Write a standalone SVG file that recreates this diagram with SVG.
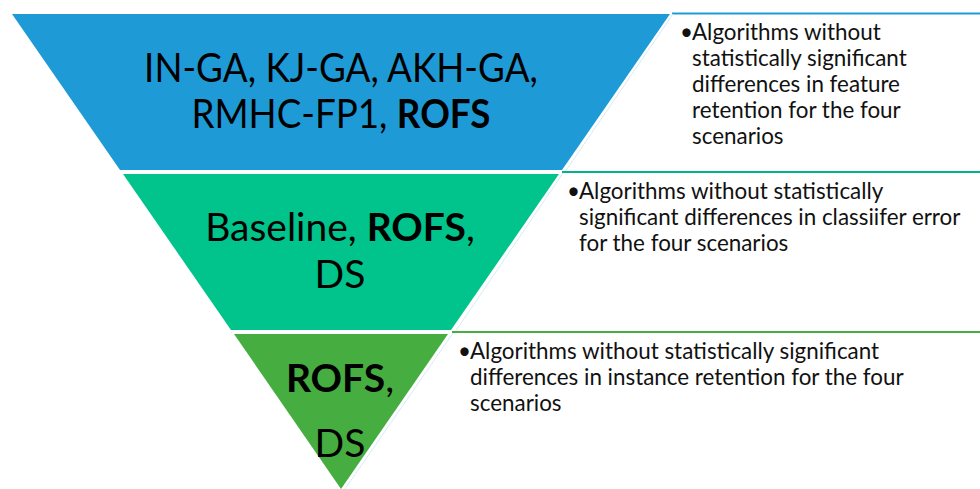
<svg xmlns="http://www.w3.org/2000/svg" width="980" height="489" viewBox="0 0 980 489">
  <style>
    .big { font-family: Lato, "Liberation Sans", sans-serif; font-size: 39px; fill: #000; text-anchor: middle; }
    .top { font-size: 41px; }
    .small { font-family: Lato, "Liberation Sans", sans-serif; font-size: 22.4px; fill: #111; }
    .b { font-weight: bold; }
    .edge { stroke: #d4ecf6; stroke-width: 1; fill: none; }
  </style>
  <rect x="0" y="0" width="980" height="489" fill="#ffffff"/>

  <g id="level-top">
    <polygon points="12,14 670,14 562,170 120,170" fill="#1E9BD7"/>
    <g transform="translate(341,0) scale(0.897,1) translate(-341,0)">
      <text class="big top" x="341" y="82">IN-GA, KJ-GA, AKH-GA,</text>
      <text class="big top" x="341" y="128">RMHC-FP1, <tspan class="b">ROFS</tspan></text>
    </g>
  </g>

  <g id="level-middle">
    <polygon points="123,174 559,174 451,330 231,330" fill="#00C48B"/>
    <text class="big" x="340" y="241">Baseline, <tspan class="b">ROFS</tspan>,</text>
    <text class="big" x="340" y="288">DS</text>
  </g>

  <g id="level-bottom">
    <polygon points="234,334 448,334 341,489" fill="#46AE40"/>
    <text class="big" x="340" y="392"><tspan class="b">ROFS</tspan>,</text>
    <text class="big" x="340" y="457">DS</text>
  </g>

  <g id="box-top">
    <line x1="672" y1="13.5" x2="980" y2="13.5" stroke="#1E9BD7" stroke-width="2"/>
    <line class="edge" x1="673" y1="14" x2="565" y2="172"/>
    <text class="small" x="680" y="40">•</text>
    <text class="small" x="692" y="40">Algorithms without</text>
    <text class="small" x="692" y="66">statistically significant</text>
    <text class="small" x="692" y="92">differences in feature</text>
    <text class="small" x="692" y="118">retention for the four</text>
    <text class="small" x="692" y="144">scenarios</text>
  </g>

  <g id="box-middle">
    <line x1="562" y1="172" x2="980" y2="172" stroke="#00B48A" stroke-width="2"/>
    <line class="edge" x1="563" y1="173" x2="455" y2="332"/>
    <text class="small" x="567" y="199">•</text>
    <text class="small" x="579" y="199">Algorithms without statistically</text>
    <text class="small" x="579" y="225">significant differences in classiifer error</text>
    <text class="small" x="579" y="251">for the four scenarios</text>
  </g>

  <g id="box-bottom">
    <line x1="452" y1="332" x2="980" y2="332" stroke="#46AE40" stroke-width="2"/>
    <line class="edge" x1="453" y1="333" x2="345" y2="489"/>
    <text class="small" x="458" y="359">•</text>
    <text class="small" x="470" y="359">Algorithms without statistically significant</text>
    <text class="small" x="470" y="385">differences in instance retention for the four</text>
    <text class="small" x="470" y="411">scenarios</text>
  </g>
</svg>
